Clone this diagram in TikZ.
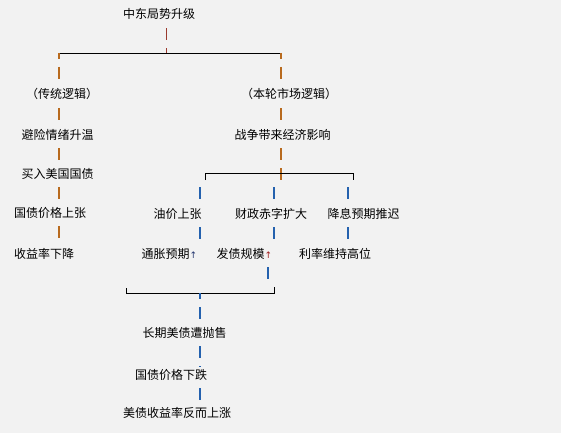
\documentclass[tikz,border=0pt]{standalone}
\usepackage{fontspec}
\setmainfont{Noto Sans CJK SC}
\newfontfamily\symfont{DejaVu Sans}
\usepackage{xcolor}
\definecolor{bg}{HTML}{F2F2F2}
\definecolor{topline}{HTML}{9A3A2E}
\definecolor{upline}{HTML}{B86A1E}
\definecolor{lowline}{HTML}{2461AE}
\definecolor{arrowblue}{HTML}{23356E}
\definecolor{arrowred}{HTML}{A02020}
\tikzstyle{link} = [line width=1.3pt, dash pattern=on 12pt off 8pt, shorten <=7pt, shorten >=2pt]
\tikzstyle{drop} = [line width=1.3pt, dash pattern=on 12pt off 8pt, dash phase=6pt, shorten >=3pt]
\tikzstyle{hline} = [line width=0.9pt, black, dash pattern=on 11.7pt off 0.3pt]
\newcommand{\uparr}[1]{{\symfont\fontsize{9}{9}\selectfont\textcolor{#1}{↑}}}

\begin{document}
\begin{tikzpicture}
        [
            x=1pt,y=-1pt,
            txt/.style={inner sep=0pt, text height=10pt, text depth=2pt, font=\fontsize{12}{12}\selectfont},
        ]
    \useasboundingbox[fill=bg] (0,0) rectangle (561,433);

    \node[txt] (top) at (159,15) {中东局势升级};

    \node[txt] (trad) at (62,95) {（传统逻辑）};
    \node[txt] (hedge) at (57.5,135) {避险情绪升温};
    \node[txt] (buy) at (57.5,174) {买入美国国债};
    \node[txt] (pricea) at (50,213) {国债价格上张};
    \node[txt] (yielda) at (44,254) {收益率下降};

    \node[txt] (mkt) at (289,95) {（本轮市场逻辑）};
    \node[txt] (war) at (282.5,135) {战争带来经济影响};

    \node[txt] (oil) at (177.5,214) {油价上张};
    \node[txt] (fiscal) at (271,214) {财政赤字扩大};
    \node[txt] (cut) at (363.5,214) {降息预期推迟};
    \node[txt] (infl) at (169.5,254) {通胀预期\uparr{arrowblue}};
    \node[txt] (issue) at (244.5,254) {发债规模\uparr{arrowred}};
    \node[txt] (rate) at (335,254) {利率维持高位};

    \node[txt] (sell) at (184.5,333) {长期美债遭抛售};
    \node[txt] (priceb) at (171,375) {国债价格下跌};
    \node[txt] (rise) at (177,413) {美债收益率反而上涨};

    \coordinate (jt) at (166.7,53);
    \coordinate (bl) at (59,53);
    \coordinate (br) at (281,53);
    \coordinate (sm) at (281,173);
    \coordinate (jw) at (281,180);
    \coordinate (sl) at (205,180);
    \coordinate (sr) at (353,180);
    \coordinate (s1) at (200,180);
    \coordinate (s2) at (274,180);
    \coordinate (s3) at (348,180);
    \coordinate (ji) at (268,280);
    \coordinate (ml) at (126,288);
    \coordinate (mr) at (274,287);
    \coordinate (jb) at (200,293);

    \draw[link,topline,shorten >=0pt] (top.south -| jt) -- (jt);
    \draw[hline] (bl) -- (br);
    \draw[drop,upline] (bl) -- (trad.north -| bl);
    \draw[drop,upline] (br) -- (mkt.north -| br);

    \draw[link,upline] (trad.south -| bl) -- (hedge.north -| bl);
    \draw[link,upline] (hedge.south -| bl) -- (buy.north -| bl);
    \draw[link,upline] (buy.south -| bl) -- (pricea.north -| bl);
    \draw[link,upline] (pricea.south -| bl) -- (yielda.north -| bl);

    \draw[link,upline] (mkt.south -| br) -- (war.north -| br);
    \draw[link,upline,shorten >=0pt] (war.south -| jw) -- (jw);
    \draw[hline] (sl) -- (sl |- sm) -- (sr |- sm) -- (sr);

    \draw[link,lowline] (s1) -- (oil.north -| s1);
    \draw[link,lowline] (s2) -- (fiscal.north -| s2);
    \draw[link,lowline] (s3) -- (cut.north -| s3);
    \draw[link,lowline] (oil.south -| s1) -- (infl.north -| s1);
    \draw[link,lowline] (fiscal.south -| s2) -- (issue.north -| s2);
    \draw[link,lowline] (cut.south -| s3) -- (rate.north -| s3);

    \draw[link,lowline,shorten >=0pt] (issue.south -| ji) -- (ji);
    \draw[hline] (ml) -- (ml |- jb) -- (mr |- jb) -- (mr);
    \draw[drop,lowline] (jb) -- (sell.north -| jb);
    \draw[link,lowline] (sell.south -| jb) -- (priceb.north -| jb);
    \draw[link,lowline] (priceb.south -| jb) -- (rise.north -| jb);
    \end{tikzpicture}
\end{document}
